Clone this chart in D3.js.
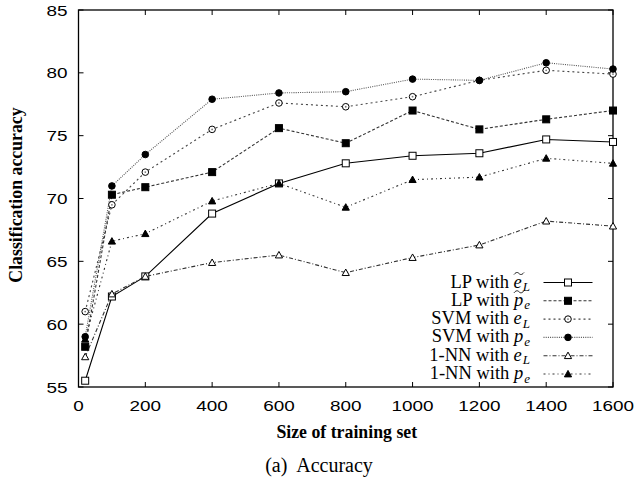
<!DOCTYPE html>
<html><head><meta charset="utf-8">
<script src="https://cdn.jsdelivr.net/npm/d3@7"></script>
<style>body{margin:0;background:#fff}</style>
</head><body>
<svg id="c" width="637" height="480"></svg>
<script>
const sizes = [20, 100, 200, 400, 600, 800, 1000, 1200, 1400, 1600];
const lpEL  = [55.5, 62.2, 63.8, 68.8, 71.2, 72.8, 73.4, 73.6, 74.7, 74.5];
const lpPE  = [58.2, 70.3, 70.9, 72.1, 75.6, 74.4, 77.0, 75.5, 76.3, 77.0];
const svmEL = [61.0, 69.5, 72.1, 75.5, 77.6, 77.3, 78.1, 79.4, 80.2, 79.9];
const svmPE = [59.0, 71.0, 73.5, 77.9, 78.4, 78.5, 79.5, 79.4, 80.8, 80.3];
const nnEL  = [57.4, 62.4, 63.8, 64.9, 65.5, 64.1, 65.3, 66.3, 68.2, 67.8];
const nnPE  = [58.8, 66.6, 67.2, 69.8, 71.2, 69.3, 71.5, 71.7, 73.2, 72.8];
const xTicks = [0, 200, 400, 600, 800, 1000, 1200, 1400, 1600];
const yTicks = [55, 60, 65, 70, 75, 80, 85];

const series = [
  {name:"LP", sub:"L", base:"e", tilde:true, vals:lpEL, dash:null, color:"#000", marker:"sqOpen"},
  {name:"LP", sub:"e", base:"p", tilde:true, vals:lpPE, dash:"3,2", color:"#333", marker:"sqFill"},
  {name:"SVM", sub:"L", base:"e", tilde:false, vals:svmEL, dash:"2,3", color:"#444", marker:"cirOpen"},
  {name:"SVM", sub:"e", base:"p", tilde:false, vals:svmPE, dash:"1,1.2", color:"#555", marker:"cirFill"},
  {name:"1-NN", sub:"L", base:"e", tilde:false, vals:nnEL, dash:"4,2,1,2", color:"#333", marker:"triOpen"},
  {name:"1-NN", sub:"e", base:"p", tilde:false, vals:nnPE, dash:"2,3,1,3", color:"#333", marker:"triFill"}
];

const svg = d3.select("#c");
const L = 78.5, R = 613, T = 10, B = 387;
const x = d3.scaleLinear().domain([0,1600]).range([L,R]);
const y = d3.scaleLinear().domain([55,85]).range([B,T]);
const sans = "Liberation Sans, Arial, sans-serif";
const serif = "Liberation Serif, Times New Roman, serif";

// ticks (inside, mirrored)
const g = svg.append("g");
const tk = 5;
xTicks.forEach(t => {
  g.append("line").attr("x1",x(t)).attr("x2",x(t)).attr("y1",B).attr("y2",B-tk).attr("stroke","#000");
  g.append("line").attr("x1",x(t)).attr("x2",x(t)).attr("y1",T).attr("y2",T+tk).attr("stroke","#000");
  g.append("text").attr("transform",`translate(${x(t)},${B+24}) scale(1.22,1)`).attr("text-anchor","middle")
    .attr("font-family",sans).attr("font-size",15.5).text(t);
});
yTicks.forEach(t => {
  g.append("line").attr("x1",L).attr("x2",L+tk).attr("y1",y(t)).attr("y2",y(t)).attr("stroke","#000");
  g.append("line").attr("x1",R).attr("x2",R-tk).attr("y1",y(t)).attr("y2",y(t)).attr("stroke","#000");
  g.append("text").attr("transform",`translate(${L-11},${y(t)+5.5}) scale(1.22,1)`).attr("text-anchor","end")
    .attr("font-family",sans).attr("font-size",15.5).text(t);
});
svg.append("rect").attr("x",L).attr("y",T).attr("width",R-L).attr("height",B-T)
  .attr("fill","none").attr("stroke","#000").attr("stroke-width",1.3);

// axis titles
svg.append("text").attr("x",(L+R)/2+1).attr("y",438).attr("text-anchor","middle")
  .attr("font-family",serif).attr("font-weight","bold").attr("font-size",17.8)
  .text("Size of training set");
svg.append("text").attr("transform","translate(22,195) rotate(-90)").attr("text-anchor","middle")
  .attr("font-family",serif).attr("font-weight","bold").attr("font-size",17.8)
  .text("Classification accuracy");
svg.append("text").attr("x",319).attr("y",472).attr("text-anchor","middle")
  .attr("font-family",serif).attr("font-size",20)
  .attr("xml:space","preserve").text("(a)  Accuracy");

function drawMarker(sel, type, cx, cy) {
  const s = 3.5;
  if (type === "sqOpen" || type === "sqFill") {
    sel.append("rect").attr("x",cx-s).attr("y",cy-s).attr("width",2*s).attr("height",2*s)
      .attr("fill", type==="sqFill" ? "#000" : "#fff").attr("stroke","#000").attr("stroke-width",1);
  } else if (type === "cirOpen" || type === "cirFill") {
    sel.append("circle").attr("cx",cx).attr("cy",cy).attr("r",3.3)
      .attr("fill", type==="cirFill" ? "#000" : "#fff").attr("stroke","#000").attr("stroke-width",1);
    if (type === "cirOpen") {
      sel.append("circle").attr("cx",cx).attr("cy",cy).attr("r",0.9).attr("fill","#777");
    }
  } else {
    const h = 3.6;
    sel.append("path").attr("d",`M${cx-h},${cy+h*0.8}L${cx+h},${cy+h*0.8}L${cx},${cy-h}Z`)
      .attr("fill", type==="triFill" ? "#000" : "#fff").attr("stroke","#000").attr("stroke-width",1);
  }
}

const line = d3.line().x((d,i)=>x(sizes[i])).y(d=>y(d));
const plot = svg.append("g");
series.forEach(s => {
  plot.append("path").datum(s.vals).attr("d",line).attr("fill","none")
    .attr("stroke",s.color).attr("stroke-width",1.1).attr("stroke-dasharray",s.dash);
});
series.forEach(s => {
  const mg = plot.append("g");
  s.vals.forEach((v,i) => drawMarker(mg, s.marker, x(sizes[i]), y(v)));
});

// legend
const lg = svg.append("g");
const ly0 = 282.5, ldy = 18.3, tx = 530, lx1 = 543.5, lx2 = 592.5;
series.forEach((s,i) => {
  const ly = ly0 + i*ldy;
  lg.append("line").attr("x1",lx1).attr("x2",lx2).attr("y1",ly).attr("y2",ly)
    .attr("stroke",s.color).attr("stroke-width",1.1).attr("stroke-dasharray",s.dash);
  drawMarker(lg, s.marker, (lx1+lx2)/2, ly);
  const t = lg.append("text").attr("x",tx).attr("y",ly+5).attr("text-anchor","end")
    .attr("font-family",serif).attr("font-size",18.5);
  t.append("tspan").text(s.name + " with ");
  t.append("tspan").attr("font-style","italic").text(s.base);
  t.append("tspan").attr("font-style","italic").attr("font-size",13).attr("dx",1).attr("dy",3.5).text(s.sub);
  if (s.tilde) {
    const cx = tx - 11, cy = ly - 9, w = 5;
    lg.append("path")
      .attr("d",`M${cx-w},${cy+1}C${cx-w*0.5},${cy-2} ${cx-w*0.2},${cy-1} ${cx},${cy}S${cx+w*0.5},${cy+2} ${cx+w},${cy-1}`)
      .attr("fill","none").attr("stroke","#000").attr("stroke-width",0.9);
  }
});
</script>
</body></html>
